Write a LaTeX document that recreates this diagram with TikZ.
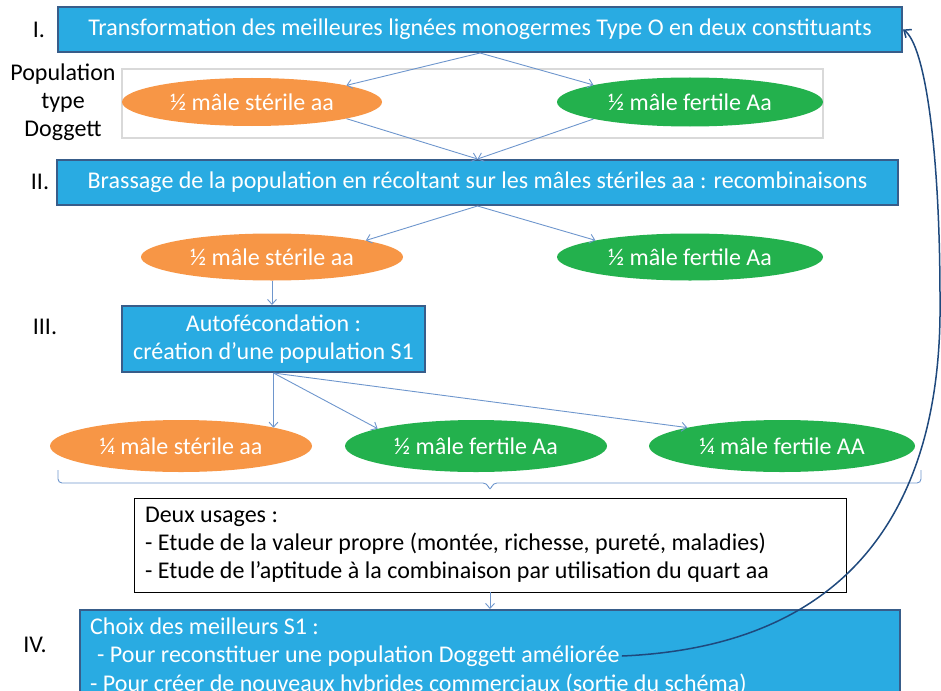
\documentclass[tikz,border=0pt]{standalone}
\usepackage{fontspec}
\setmainfont{Carlito}
\usetikzlibrary{arrows.meta,shapes.geometric,calc}
\definecolor{boxblue}{RGB}{41,171,226}
\definecolor{boxborder}{RGB}{56,93,138}
\definecolor{orng}{RGB}{247,150,70}
\definecolor{grn}{RGB}{35,177,77}
\definecolor{arrowblue}{RGB}{110,150,205}
\definecolor{curveblue}{RGB}{31,73,125}
\definecolor{graybox}{RGB}{217,217,217}
\begin{document}
\begin{tikzpicture}[x=1pt,y=-1pt,
  every node/.style={font=\fontsize{24}{28}\selectfont},
  bluebox/.style={draw=boxborder,line width=2pt,fill=boxblue,text=white,inner sep=0pt},
  oval/.style={ellipse,inner sep=0pt,text=white},
  sterile/.style={oval,fill=orng},
  fertile/.style={oval,fill=grn},
  link/.style={draw=arrowblue,line width=0.9pt,-{Straight Barb[length=5pt,width=9pt]}},
  whitetext/.style={text=white,inner sep=0pt,anchor=west},
]
\useasboundingbox (0,0) rectangle (941,690);
\clip (0,0) rectangle (941,690);

% Step I
\node[bluebox,minimum width=844pt,minimum height=45pt] (b1) at (480,29.5)
  {Transformation des meilleures lignées monogermes Type O en deux constituants};
\node (l1) at (39,30) {I.};

\node[draw=graybox,line width=2pt,minimum width=701pt,minimum height=69pt] (pop) at (472.5,103.5) {};
\node (pa) at (63,74) {Population};
\node (pb) at (63,103) {type};
\node (pc) at (63,131) {Doggett};

\node[sterile,minimum width=260pt,minimum height=48pt] (s1) at (252,102) {½ mâle stérile aa};
\node[fertile,minimum width=266pt,minimum height=49pt] (f1) at (690,102) {½ mâle fertile Aa};

% Step II
\node[bluebox,minimum width=841pt,minimum height=45pt] (b2) at (477.5,182.5)
  {Brassage de la population en récoltant sur les mâles stériles aa : recombinaisons};
\node (l2) at (40,182) {II.};

\node[sterile,minimum width=262pt,minimum height=47pt] (s2) at (272,257) {½ mâle stérile aa};
\node[fertile,minimum width=266pt,minimum height=47pt] (f2) at (690,257) {½ mâle fertile Aa};

% Step III
\node[bluebox,minimum width=303pt,minimum height=66pt,align=center] (b3) at (273.5,339)
  {Autofécondation :\\création d’une population S1};
\node (l3) at (45,327) {III.};

\node[sterile,minimum width=262pt,minimum height=52pt] (s3) at (181,446) {¼ mâle stérile aa};
\node[fertile,minimum width=262pt,minimum height=52pt] (f3) at (476,446) {½ mâle fertile Aa};
\node[fertile,minimum width=266pt,minimum height=52pt] (f4) at (782,446) {¼ mâle fertile AA};

% brace
\draw[arrowblue,line width=0.9pt,rounded corners=4pt]
  (58,470) -- (58,483) -- (487,483) -- (490,491) -- (493,483) -- (921,483) -- (921,470);
\coordinate (brtip) at (490,491);

% Deux usages
\node[draw=black,line width=0.8pt,fill=white,minimum width=712pt,minimum height=94pt,
  text width=690pt,align=left,inner xsep=11pt] (uses) at (490,545)
  {\spaceskip=5.5pt plus 1pt minus 1pt\relax
   Deux usages :\\- Etude de la valeur propre (montée, richesse, pureté, maladies)\\- Etude de l'aptitude à la combinaison par utilisation du quart aa};

% Step IV
\node[bluebox,minimum width=820pt,minimum height=110pt] (b4) at (490,665) {};
\node (l4) at (35,645) {IV.};
\node[whitetext] (c1) at (90,626) {Choix des meilleurs S1 :};
\node[whitetext] (c2) at (97,656) {- Pour reconstituer une population Doggett améliorée};
\node[whitetext] (c3) at (90,685) {- Pour créer de nouveaux hybrides commerciaux (sortie du schéma)};

% connectors
\draw[link] (b1.south) -- (s1.10);
\draw[link] (b1.south) -- (f1.170);
\draw[link] (s1.-10) -- (b2.north);
\draw[link] (f1.190) -- (b2.north);
\draw[link] (b2.south) -- (s2.10);
\draw[link] (b2.south) -- (f2.170);
\draw[link] (s2.south) -- (s2.south |- b3.north);
\draw[link] (b3.south) -- (b3.south |- s3.11);
\draw[link] (b3.south) -- (f3.170);
\draw[link] (b3.south) -- (f4.169);
\draw[link] (uses.south) -- (b4.north);

\draw[curveblue,line width=1.5pt,-{Straight Barb[length=6pt,width=10pt]}]
  ([xshift=2pt]c2.east) .. controls (880,645) and (942,470) .. (940,300)
  .. controls (940,150) and (925,45) .. (b1.east);
\end{tikzpicture}
\end{document}
